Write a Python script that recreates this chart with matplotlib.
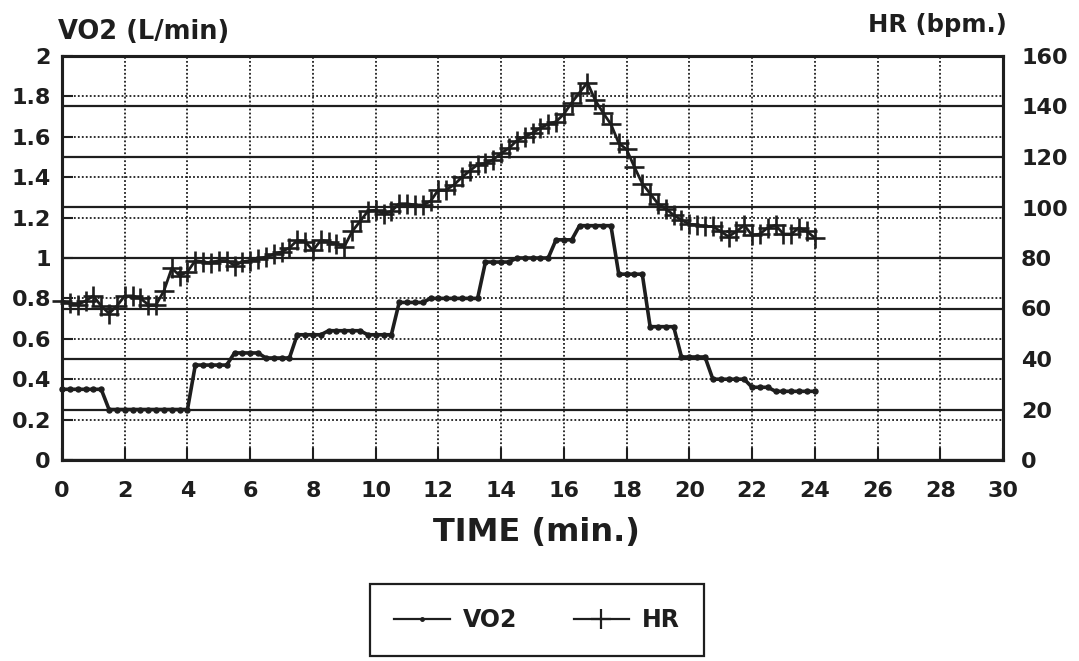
import numpy as np
import matplotlib
matplotlib.use("Agg")
import matplotlib.pyplot as plt
from matplotlib.lines import Line2D

# ---------------- data ----------------
# sample times (min), one reading every 15 s from 0 to 24 min
time_min = np.linspace(0, 24, 97)

vo2_l_min = [
    0.35, 0.35, 0.35, 0.35, 0.35, 0.35,
    0.25, 0.25, 0.25, 0.25, 0.25, 0.25, 0.25, 0.25, 0.25, 0.25, 0.25,
    0.47, 0.47, 0.47, 0.47, 0.47,
    0.53, 0.53, 0.53, 0.53,
    0.505, 0.505, 0.505, 0.505,
    0.62, 0.62, 0.62, 0.62,
    0.64, 0.64, 0.64, 0.64, 0.64,
    0.62, 0.62, 0.62, 0.62,
    0.78, 0.78, 0.78, 0.78,
    0.80, 0.80, 0.80, 0.80, 0.80, 0.80, 0.80,
    0.98, 0.98, 0.98, 0.98,
    1.00, 1.00, 1.00, 1.00, 1.00,
    1.09, 1.09, 1.09,
    1.16, 1.16, 1.16, 1.16, 1.16,
    0.92, 0.92, 0.92, 0.92,
    0.66, 0.66, 0.66, 0.66,
    0.51, 0.51, 0.51, 0.51,
    0.40, 0.40, 0.40, 0.40, 0.40,
    0.36, 0.36, 0.36,
    0.34, 0.34, 0.34, 0.34, 0.34, 0.34,
]

hr_bpm = [
    63, 62, 61.5, 63, 65, 61, 58, 61, 65, 65,
    64, 61.5, 61.5, 67, 76, 73, 74.5, 79, 78.5, 78,
    79, 79, 77, 78.5, 79, 79.5, 80.5, 81.5, 82.5, 84,
    87, 86.5, 83, 87, 86.5, 85.5, 84.5, 90.5, 94.5, 98.5,
    99, 97.5, 98.5, 101.5, 101.5, 101, 101, 102.5, 107, 107,
    109, 112, 114.5, 117, 117.5, 119, 121.5, 123.5, 126.5, 128,
    129.5, 131.5, 133, 134, 137, 141.5, 145.5, 149.5, 142.5, 137.5,
    133, 125.5, 123, 116, 109.5, 105.5, 101.5, 99.5, 97, 95,
    93.5, 93, 92.5, 92.5, 90.5, 88.5, 90.5, 93, 89, 89.5,
    92, 93, 89.5, 89.5, 92, 90.5, 88,
]

x_ticks = [0, 2, 4, 6, 8, 10, 12, 14, 16, 18, 20, 22, 24, 26, 28, 30]
x_tick_labels = [str(v) for v in x_ticks]
vo2_ticks = [0, 0.2, 0.4, 0.6, 0.8, 1.0, 1.2, 1.4, 1.6, 1.8, 2.0]
vo2_tick_labels = ["0", "0.2", "0.4", "0.6", "0.8", "1", "1.2", "1.4", "1.6", "1.8", "2"]
hr_ticks = [0, 20, 40, 60, 80, 100, 120, 140, 160]
hr_tick_labels = [str(v) for v in hr_ticks]

assert len(vo2_l_min) == len(time_min) == len(hr_bpm)

# ---------------- figure ----------------
plt.rcParams["font.family"] = ["DejaVu Sans"]
plt.rcParams["font.weight"] = "bold"

W, H = 1079, 661
fig = plt.figure(figsize=(W / 100, H / 100), dpi=100)
L, R, T, B = 62, 1003, 56, 460
ax = fig.add_axes([L / W, 1 - B / H, (R - L) / W, (B - T) / H])
ax2 = ax.twinx()

ink = "#1e1e1e"

ax.set_xlim(0, 30)
ax.set_ylim(0, 2)
ax2.set_ylim(0, 160)

# left axis on top (dotted grid + VO2), right axis behind (solid grid + HR)
ax.set_zorder(ax2.get_zorder() + 1)
ax.patch.set_visible(False)

ax.set_xticks(x_ticks)
ax.set_xticklabels(x_tick_labels)
ax.set_yticks(vo2_ticks)
ax.set_yticklabels(vo2_tick_labels)
ax2.set_yticks(hr_ticks)
ax2.set_yticklabels(hr_tick_labels)

ax.grid(True, which="major", color=ink, linestyle=(0, (1, 1.2)), linewidth=1.3)
ax2.grid(True, axis="y", color=ink, linestyle="-", linewidth=1.6)

ax.tick_params(axis="x", direction="in", length=9, width=1.5, color=ink,
               labelsize=16, pad=15, labelcolor=ink)
ax.tick_params(axis="y", direction="in", length=8, width=1.5, color=ink,
               labelsize=16, pad=8, labelcolor=ink)
ax2.tick_params(axis="y", direction="in", length=0, labelsize=16, pad=13,
                labelcolor=ink)

for a in (ax, ax2):
    for s in a.spines.values():
        s.set_linewidth(2.2)
        s.set_color(ink)

# series
ax2.plot(time_min, hr_bpm, color=ink, linewidth=2.0, marker="+",
         markersize=15, markeredgewidth=1.9, clip_on=False)
ax.plot(time_min, vo2_l_min, color=ink, linewidth=2.6, marker="o",
        markersize=3.6, clip_on=False)

# axis titles
fig.text(58 / W, 1 - 39 / H, "VO2 (L/min)", fontsize=18.5, fontweight="bold",
         ha="left", va="baseline", color=ink)
fig.text(1007 / W, 1 - 32 / H, "HR (bpm.)", fontsize=17.5, fontweight="bold",
         ha="right", va="baseline", color=ink)
fig.text(536 / W, 1 - 533 / H, "TIME (min.)", fontsize=23, fontweight="bold",
         ha="center", va="center", color=ink)

# legend
handles = [
    Line2D([], [], color=ink, linewidth=1.6, marker="o", markersize=2.5),
    Line2D([], [], color=ink, linewidth=1.6, marker="+", markersize=14,
           markeredgewidth=1.6),
]
leg = fig.legend(handles, ["VO2", "HR"], loc="center",
                 bbox_to_anchor=(537 / W, 1 - 620 / H), ncol=2, frameon=True,
                 fancybox=False, framealpha=1.0, handlelength=2.35,
                 columnspacing=2.4, borderpad=1.0, handletextpad=0.55,
                 borderaxespad=0.0, numpoints=1,
                 prop={"weight": "bold", "size": 17})
leg.get_frame().set_edgecolor(ink)
leg.get_frame().set_linewidth(1.6)
for t in leg.get_texts():
    t.set_color(ink)

fig.savefig("out.png", dpi=100, facecolor="white")
